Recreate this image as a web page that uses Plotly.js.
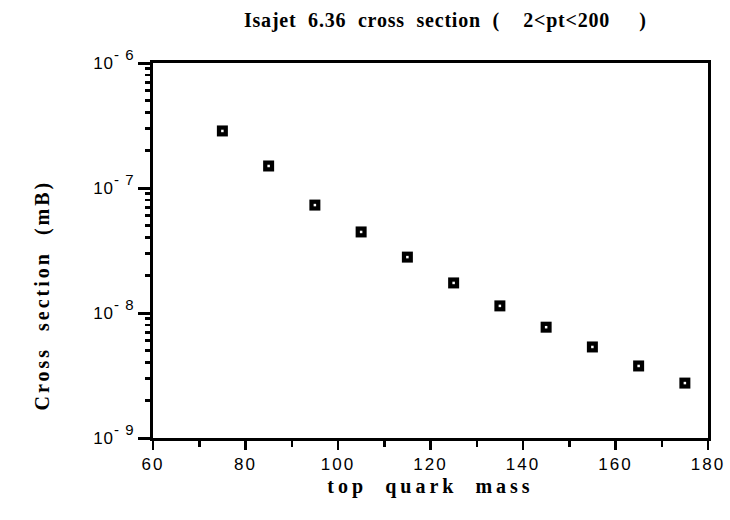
<!DOCTYPE html>
<html><head><meta charset="utf-8">
<script src="https://cdn.plot.ly/plotly-3.0.1.min.js"></script>
<style>
body{margin:0;background:#fff}#c{width:730px;height:520px}
#c .gtitle{letter-spacing:0.8px}
#c .xtitle{letter-spacing:4px}
#c .annotation-text{letter-spacing:3px}
#c .xtick text{letter-spacing:2px}
#c .ytick text{letter-spacing:1px}
#c .ytick text tspan{font-size:15px !important}
</style>
</head><body><div id="c"></div>
<script>
var topMass = [75, 85, 95, 105, 115, 125, 135, 145, 155, 165, 175];
var crossSection = [2.86e-7, 1.50e-7, 7.3e-8, 4.45e-8, 2.8e-8, 1.74e-8, 1.14e-8, 7.7e-9, 5.35e-9, 3.77e-9, 2.75e-9];
var xTickVals = [60, 80, 100, 120, 140, 160, 180];
var xMinorVals = [70, 90, 110, 130, 150, 170];
var yDecades = [1e-9, 1e-8, 1e-7, 1e-6];
var yExponents = ['9', '8', '7', '6'];
var yTickText = yExponents.map(function(e){ return '10<sup>- ' + e + '</sup>'; });
// minor ticks (2..9 per decade) on an overlaid linear axis in log10 units
var yMinorLog = [];
[-9, -8, -7].forEach(function(p){ for (var k = 2; k <= 9; k++) yMinorLog.push(p + Math.log10(k)); });

var serif = 'Liberation Serif, Times New Roman, serif';
var sans = 'Liberation Sans, Arial, Helvetica, sans-serif';

var traces = [
  {x: topMass, y: crossSection, mode: 'markers', type: 'scatter',
   marker: {symbol: 'square', size: 11, color: '#000', line: {width: 0}}},
  {x: topMass, y: crossSection.map(Math.log10), mode: 'markers', type: 'scatter', yaxis: 'y2',
   marker: {symbol: 'square', size: 2.5, color: '#fff', line: {width: 0}}}
];
var layout = {
  width: 730, height: 520,
  margin: {l: 153, r: 22, t: 63, b: 82},
  paper_bgcolor: '#fff', plot_bgcolor: '#fff',
  showlegend: false,
  title: {text: 'Isajet  6.36  cross  section  (    2&lt;pt&lt;200     )', x: 0.61, xanchor: 'center', y: 0.962, yanchor: 'middle',
          font: {family: serif, size: 20, color: '#000', weight: 'bold'}},
  xaxis: {range: [60, 180], tickmode: 'array', tickvals: xTickVals, ticks: 'outside', ticklen: 9, tickwidth: 2.5,
          tickcolor: '#000', showline: true, linewidth: 3, linecolor: '#000', mirror: true, showgrid: false, zeroline: false,
          minor: {tickvals: xMinorVals, ticks: 'outside', ticklen: 6, tickwidth: 2.5, tickcolor: '#000', showgrid: false},
          tickfont: {family: sans, size: 17, color: '#000'},
          title: {text: 'top  quark  mass', standoff: 6,
                  font: {family: serif, size: 20, color: '#000', weight: 'bold'}}},
  yaxis: {type: 'log', range: [-9, -6], tickmode: 'array', tickvals: yDecades, ticktext: yTickText,
          ticks: 'outside', ticklen: 12, tickwidth: 3, tickcolor: '#000', showline: true, linewidth: 3, linecolor: '#000',
          mirror: true, showgrid: false, zeroline: false,
          tickfont: {family: sans, size: 17, color: '#000'}},
  yaxis2: {type: 'linear', range: [-9, -6], overlaying: 'y', side: 'left', anchor: 'x', tickmode: 'array',
           tickvals: yMinorLog, showticklabels: false, ticks: 'outside', ticklen: 7, tickwidth: 2.5, tickcolor: '#000',
           showline: false, showgrid: false, zeroline: false},
  annotations: [{text: 'Cross  section  (mB)', textangle: -90, xref: 'paper', yref: 'paper', x: -0.2, y: 0.38,
                 xanchor: 'center', yanchor: 'middle', showarrow: false,
                 font: {family: serif, size: 20, color: '#000', weight: 'bold'}}]
};
Plotly.newPlot('c', traces, layout, {displayModeBar: false, staticPlot: true});
</script></body></html>
